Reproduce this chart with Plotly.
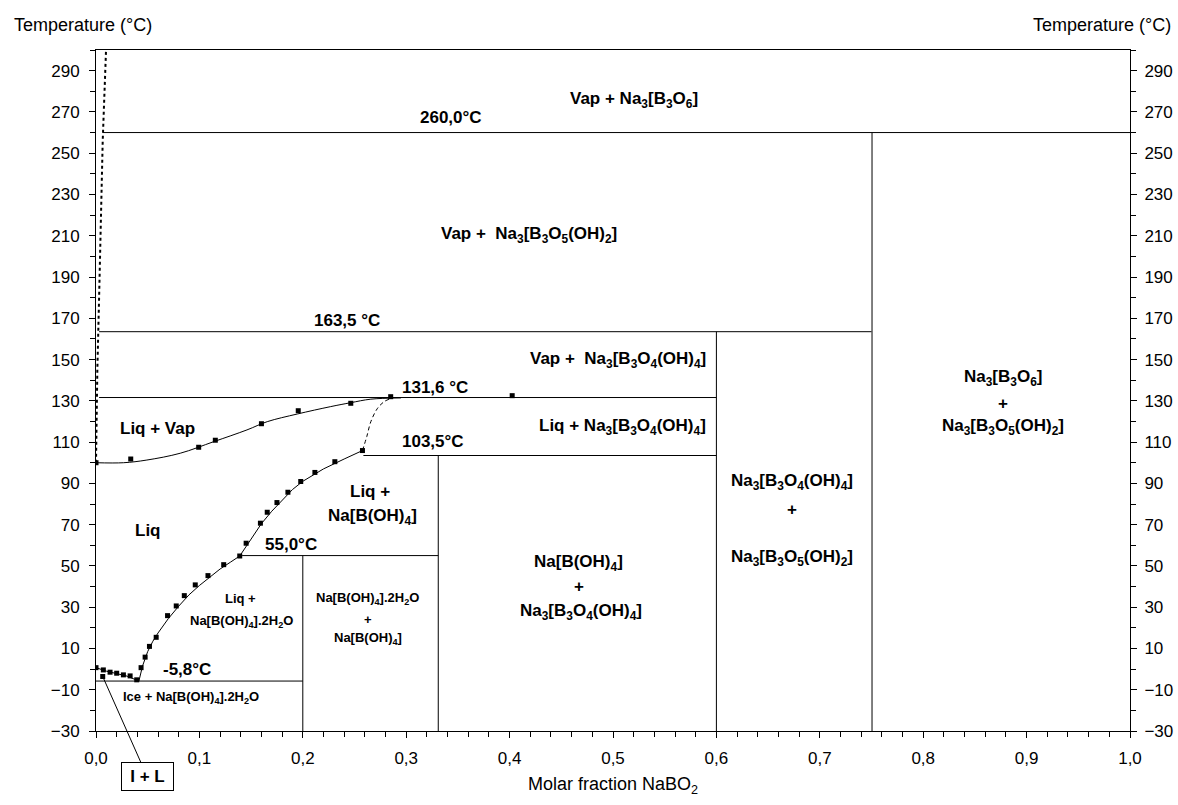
import plotly.graph_objects as go

# ---------------- data ----------------
x_tick_vals = [0.0, 0.1, 0.2, 0.3, 0.4, 0.5, 0.6, 0.7, 0.8, 0.9, 1.0]
x_tick_text = ["0,0", "0,1", "0,2", "0,3", "0,4", "0,5", "0,6", "0,7", "0,8", "0,9", "1,0"]
y_tick_vals = list(range(-30, 300, 20))

# isotherms (invariant lines)
iso_temp = [260.0, 163.5, 131.6, 103.5, 55.0, -5.8]
iso_x_start = [0.0065, 0.003, 0.003, 0.2586, 0.1413, 0.0]
iso_x_end = [1.0, 0.75, 0.6, 0.6, 0.331, 0.2]

# vertical compound lines
comp_x = [0.7505, 0.6, 0.331, 0.2]
comp_t_top = [260.0, 163.5, 103.5, 55.0]
comp_t_bottom = [-30.0, -30.0, -30.0, -30.0]

# boiling curve (Liq / Liq + Vap), fitted line
boil_x = [0.0, 0.0265, 0.0492, 0.0815, 0.1138, 0.146, 0.1656, 0.1946, 0.227, 0.2464, 0.2658, 0.2949]
boil_t = [100.0, 100.0, 101.3, 104.6, 110.2, 115.9, 119.9, 123.6, 127.2, 129.1, 130.8, 131.4]
# boiling experimental points
boil_pts_x = [0.0, 0.0336, 0.0993, 0.1154, 0.160, 0.1956, 0.2464, 0.285, 0.4025]
boil_pts_t = [100.0, 101.8, 107.5, 110.9, 118.9, 125.2, 128.8, 132.0, 132.5]

# solubility / freezing curve, fitted line
sol_x = [0.0, 0.01, 0.02, 0.03, 0.0415, 0.045, 0.05, 0.055, 0.06, 0.07, 0.08, 0.09, 0.10,
         0.11, 0.12, 0.13, 0.139, 0.15, 0.16, 0.17, 0.18, 0.19, 0.20, 0.22, 0.24, 0.2577]
sol_t = [0.7, -1.0, -2.2, -3.4, -5.8, 1.5, 8.5, 13.5, 17.5, 24.5, 30.5, 36.0, 40.5,
         44.5, 48.5, 51.8, 54.8, 63.0, 70.5, 76.5, 82.0, 87.0, 91.0, 97.0, 101.8, 105.9]
# solubility experimental points
sol_pts_x = [0.0, 0.0071, 0.0136, 0.020, 0.0265, 0.033, 0.0394, 0.0436, 0.0475, 0.0517,
             0.0582, 0.0692, 0.0776, 0.0854, 0.096, 0.1083, 0.1235, 0.139, 0.1452, 0.159,
             0.1656, 0.175, 0.1856, 0.198, 0.2117, 0.231, 0.2577, 0.0065]
sol_pts_t = [0.7, -0.4, -1.5, -2.0, -2.8, -3.3, -5.2, 0.7, 5.8, 11.0,
             15.4, 25.9, 30.6, 35.6, 40.8, 45.3, 50.6, 54.8, 61.0, 70.7,
             76.0, 80.7, 85.7, 90.9, 95.3, 100.5, 105.9, -3.6]

# metastable (dashed) extension
dash_x = [0.2577, 0.2619, 0.2658, 0.2723, 0.2787, 0.2835]
dash_t = [105.9, 112.7, 119.9, 126.4, 129.6, 130.8]

# vapour line (dotted)
vap_x = [0.0, 0.0005, 0.0013, 0.003, 0.0045, 0.0065, 0.0097]
vap_t = [100.0, 120.0, 145.0, 180.0, 220.0, 256.0, 300.0]

# ---------------- figure ----------------
FONT = "Liberation Sans, Arial, sans-serif"
fig = go.Figure()

iso_xs, iso_ys = [], []
for t, xs, xe in zip(iso_temp, iso_x_start, iso_x_end):
    iso_xs += [xs, xe, None]
    iso_ys += [t, t, None]
for x, tt, tb in zip(comp_x, comp_t_top, comp_t_bottom):
    iso_xs += [x, x, None]
    iso_ys += [tt, tb, None]

fig.add_trace(go.Scatter(x=iso_xs, y=iso_ys, mode="lines",
                         line=dict(color="black", width=1), hoverinfo="skip", showlegend=False))
fig.add_trace(go.Scatter(x=boil_x, y=boil_t, mode="lines", line_shape="spline",
                         line=dict(color="black", width=1), showlegend=False))
fig.add_trace(go.Scatter(x=sol_x, y=sol_t, mode="lines",
                         line=dict(color="black", width=1), showlegend=False))
fig.add_trace(go.Scatter(x=dash_x, y=dash_t, mode="lines", line_shape="spline",
                         line=dict(color="black", width=1, dash="4px,3px"), showlegend=False))
fig.add_trace(go.Scatter(x=vap_x, y=vap_t, mode="lines",
                         line=dict(color="black", width=2, dash="dot"), showlegend=False))
fig.add_trace(go.Scatter(x=boil_pts_x, y=boil_pts_t, mode="markers",
                         marker=dict(symbol="square", size=5, color="black"), showlegend=False))
fig.add_trace(go.Scatter(x=sol_pts_x, y=sol_pts_t, mode="markers",
                         marker=dict(symbol="square", size=5, color="black"), showlegend=False))
# invisible trace to activate right axis
fig.add_trace(go.Scatter(x=[0.5], y=[0], yaxis="y2", mode="markers",
                         marker=dict(opacity=0), hoverinfo="skip", showlegend=False))

# ---------------- labels ----------------
labels = [
    ("Vap + Na<sub>3</sub>[B<sub>3</sub>O<sub>6</sub>]", 0.520, 275.8, 17),
    ("260,0°C", 0.343, 267.4, 17),
    ("Vap +  Na<sub>3</sub>[B<sub>3</sub>O<sub>5</sub>(OH)<sub>2</sub>]", 0.4187, 210.4, 17),
    ("163,5 °C", 0.2429, 168.7, 17),
    ("Vap +  Na<sub>3</sub>[B<sub>3</sub>O<sub>4</sub>(OH)<sub>4</sub>]", 0.5046, 149.8, 17),
    ("131,6 °C", 0.328, 136.6, 17),
    ("Liq + Na<sub>3</sub>[B<sub>3</sub>O<sub>4</sub>(OH)<sub>4</sub>]", 0.5087, 117.5, 17),
    ("103,5°C", 0.3256, 110.2, 17),
    ("Liq + Vap", 0.0595, 116.7, 17),
    ("Liq +", 0.2651, 86.0, 17),
    ("Na[B(OH)<sub>4</sub>]", 0.2675, 73.9, 17),
    ("55,0°C", 0.189, 60.2, 17),
    ("Liq", 0.0506, 67.1, 17),
    ("Liq +", 0.1398, 34.3, 13),
    ("Na[B(OH)<sub>4</sub>].2H<sub>2</sub>O", 0.141, 23.0, 13),
    ("Na[B(OH)<sub>4</sub>].2H<sub>2</sub>O", 0.263, 34.3, 13),
    ("+", 0.2635, 24.2, 13),
    ("Na[B(OH)<sub>4</sub>]", 0.2635, 14.9, 13),
    ("-5,8°C", 0.0882, 0.0, 17),
    ("Ice + Na[B(OH)<sub>4</sub>].2H<sub>2</sub>O", 0.0914, -13.6, 13),
    ("Na[B(OH)<sub>4</sub>]", 0.4667, 51.6, 17),
    ("+", 0.4667, 40.0, 17),
    ("Na<sub>3</sub>[B<sub>3</sub>O<sub>4</sub>(OH)<sub>4</sub>]", 0.4691, 27.9, 17),
    ("Na<sub>3</sub>[B<sub>3</sub>O<sub>4</sub>(OH)<sub>4</sub>]", 0.6734, 90.9, 17),
    ("+", 0.6734, 77.1, 17),
    ("Na<sub>3</sub>[B<sub>3</sub>O<sub>5</sub>(OH)<sub>2</sub>]", 0.6734, 53.7, 17),
    ("Na<sub>3</sub>[B<sub>3</sub>O<sub>6</sub>]", 0.8771, 140.9, 17),
    ("+", 0.8771, 128.8, 17),
    ("Na<sub>3</sub>[B<sub>3</sub>O<sub>5</sub>(OH)<sub>2</sub>]", 0.8771, 117.5, 17),
]
annotations = []
for text, x, y, size in labels:
    annotations.append(dict(text="<b>" + text + "</b>", x=x, y=y, xref="x", yref="y",
                            showarrow=False, xanchor="center", yanchor="middle",
                            font=dict(family=FONT, size=size, color="black")))

# I + L callout
annotations.append(dict(text="<b>I + L</b>", x=0.0065, y=-3.6, xref="x", yref="y",
                        ax=0.0495, ay=-52.1, axref="x", ayref="y",
                        showarrow=True, arrowhead=0, arrowwidth=1, arrowcolor="black",
                        bordercolor="black", borderwidth=1, borderpad=3,
                        width=45, height=21, bgcolor="white",
                        font=dict(family=FONT, size=17, color="black")))

# axis titles
annotations.append(dict(text="Temperature (°C)", x=-0.0816, y=1.0367, xref="paper", yref="paper",
                        xanchor="left", yanchor="middle", showarrow=False,
                        font=dict(family=FONT, size=18, color="black")))
annotations.append(dict(text="Temperature (°C)", x=1.0418, y=1.0367, xref="paper", yref="paper",
                        xanchor="right", yanchor="middle", showarrow=False,
                        font=dict(family=FONT, size=18, color="black")))
annotations.append(dict(text="Molar fraction NaBO<sub>2</sub>", x=0.5, y=-0.0793,
                        xref="paper", yref="paper", xanchor="center", yanchor="middle",
                        showarrow=False, font=dict(family=FONT, size=18, color="black")))

tickfont = dict(family=FONT, size=17, color="black")
fig.update_layout(
    width=1178, height=805,
    margin=dict(l=96, r=48, t=50, b=74, autoexpand=False),
    paper_bgcolor="white", plot_bgcolor="white",
    showlegend=False,
    annotations=annotations,
    xaxis=dict(range=[0, 1], tickvals=x_tick_vals, ticktext=x_tick_text,
               showgrid=False, zeroline=False, showline=True, linecolor="black", linewidth=1,
               mirror=True, ticks="outside", ticklen=6, tickcolor="black", tickwidth=1,
               ticklabelstandoff=6,
               minor=dict(dtick=0.02, ticks="outside", ticklen=5, tickcolor="black", showgrid=False),
               tickfont=tickfont),
    yaxis=dict(range=[-30, 300], tickvals=y_tick_vals,
               showgrid=False, zeroline=False, showline=True, linecolor="black", linewidth=1,
               ticks="outside", ticklen=6, tickcolor="black", tickwidth=1,
               ticklabelstandoff=6,
               minor=dict(tick0=-30, dtick=10, ticks="outside", ticklen=5, tickcolor="black", showgrid=False),
               tickfont=tickfont),
    yaxis2=dict(range=[-30, 300], tickvals=y_tick_vals, overlaying="y", side="right",
                showgrid=False, zeroline=False, showline=True, linecolor="black", linewidth=1,
                ticks="outside", ticklen=6, tickcolor="black", tickwidth=1,
                ticklabelstandoff=4,
                minor=dict(tick0=-30, dtick=10, ticks="outside", ticklen=5, tickcolor="black", showgrid=False),
                tickfont=tickfont),
)

# remove the default page margin so the figure fills the 1178x805 window exactly
fig.write_html("out.html",
               config={"displayModeBar": False},
               post_script="document.body.style.margin='0';document.body.style.overflow='hidden';")
